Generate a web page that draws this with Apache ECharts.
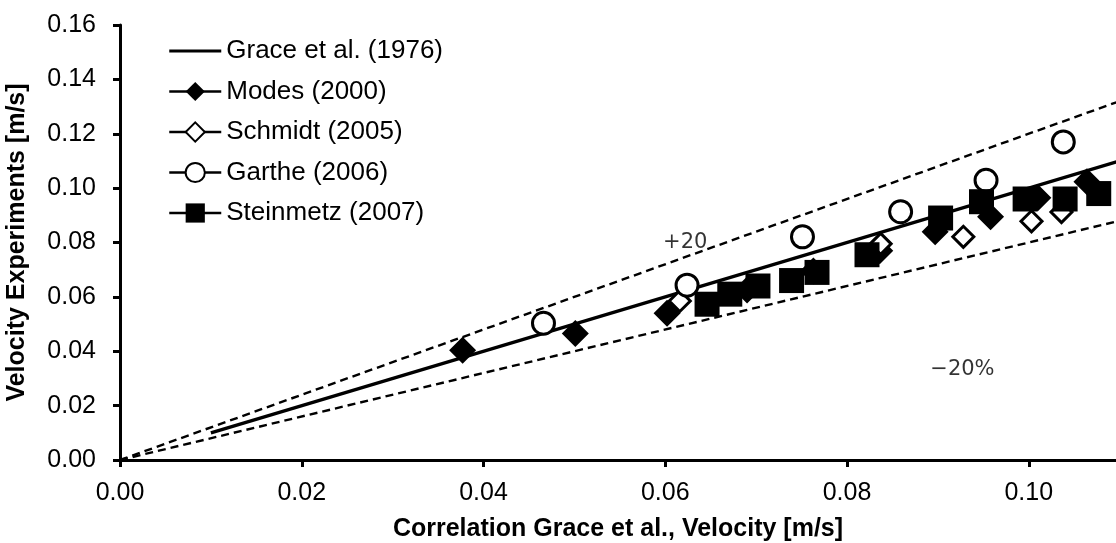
<!DOCTYPE html>
<html>
<head>
<meta charset="utf-8">
<script src="https://cdn.jsdelivr.net/npm/echarts@6/dist/echarts.min.js"></script>
<style>
html,body{margin:0;padding:0;background:#fff;}
#chart{width:1116px;height:543px;}
</style>
</head>
<body>
<div id="chart"></div>
<script>
// ---- data ----
const xTickInterval = 0.02;
const yTickInterval = 0.02;
const graceLine = [[0.01, 0.01], [0.11, 0.11]];
const plus20Line = [[0, 0], [0.11, 0.132]];
const minus20Line = [[0, 0], [0.11, 0.088]];
const modes = [[0.0377,0.0404],[0.0501,0.0465],[0.0602,0.0540],[0.0690,0.0625],[0.0763,0.0695],[0.0836,0.0770],[0.0897,0.0840],[0.0958,0.0895],[0.1010,0.0965],[0.1064,0.1023]];
const schmidt = [[0.0616,0.0585],[0.0837,0.0795],[0.0928,0.0821],[0.1003,0.0878],[0.1036,0.0912]];
const garthe = [[0.0466,0.0503],[0.0624,0.0643],[0.0751,0.0821],[0.0859,0.0913],[0.0953,0.1029],[0.1038,0.1170]];
const steinmetz = [[0.0646,0.0573],[0.0671,0.0610],[0.0702,0.0640],[0.0739,0.0660],[0.0767,0.0690],[0.0822,0.0755],[0.0903,0.0890],[0.0948,0.0950],[0.0996,0.0960],[0.1040,0.0960],[0.1077,0.0980]];
const annotations = [{name:'+20', value:[0.0622,0.0800]}, {name:'\u221220%', value:[0.0927,0.0331]}];
const seriesNames = ['Grace et al. (1976)','Modes (2000)','Schmidt (2005)','Garthe (2006)','Steinmetz (2007)'];

const FONT = '"Liberation Sans", Arial, sans-serif';
const chart = echarts.init(document.getElementById('chart'), null, {renderer:'canvas'});

function markerSeries(name, data, symbol, size, filled){
  return {
    name, type:'line', data, symbol, symbolSize:size, showSymbol:true,
    lineStyle:{opacity:0, width:0},
    itemStyle:{color: filled ? '#000' : '#fff', borderColor:'#000', borderWidth: filled ? 0 : 3, opacity:1},
    emphasis:{disabled:true}, animation:false, z:3
  };
}

chart.setOption({
  backgroundColor:'#fff',
  animation:false,
  grid:{left:120, right:0, top:25, bottom:83, containLabel:false, outerBoundsMode:'none'},
  xAxis:{
    type:'value', min:0, max:0.1096, interval:xTickInterval,
    name:'Correlation Grace et al., Velocity [m/s]', nameLocation:'middle', nameGap:57,
    nameTextStyle:{fontFamily:FONT, fontWeight:'bold', fontSize:25, color:'#000'},
    axisLine:{lineStyle:{color:'#000', width:3}},
    axisTick:{show:true, inside:false, length:7, lineStyle:{color:'#000', width:3}},
    axisLabel:{fontFamily:FONT, fontSize:25, color:'#000', margin:21, showMaxLabel:false,
      formatter:v=>v.toFixed(2)},
    splitLine:{show:false}
  },
  yAxis:{
    type:'value', min:0, max:0.16, interval:yTickInterval,
    name:'Velocity Experiments [m/s]', nameLocation:'middle', nameGap:90,
    nameTextStyle:{fontFamily:FONT, fontWeight:'bold', fontSize:25, color:'#000'},
    axisLine:{lineStyle:{color:'#000', width:3}},
    axisTick:{show:true, inside:false, length:7, lineStyle:{color:'#000', width:3}},
    axisLabel:{fontFamily:FONT, fontSize:25, color:'#000', margin:24, formatter:v=>v.toFixed(2)},
    splitLine:{show:false}
  },
  legend:{
    orient:'vertical', left:163, top:31, itemWidth:52, itemHeight:24, itemGap:10.5,
    data:[
      {name:seriesNames[0], icon:'path://M0,0H52V3H0Z'},
      seriesNames[1], seriesNames[2], seriesNames[3], seriesNames[4]
    ],
    textStyle:{fontFamily:FONT, fontSize:26, color:'#000', lineHeight:30},
    lineStyle:{color:'#000', width:2.5, opacity:1, type:'solid'},
    selectedMode:false
  },
  series:[
    {name:'plus20', type:'line', data:plus20Line, symbol:'none', silent:true, z:1,
      lineStyle:{color:'#000', width:2.4, type:[8,5]}},
    {name:'minus20', type:'line', data:minus20Line, symbol:'none', silent:true, z:1,
      lineStyle:{color:'#000', width:2.4, type:[8,5]}},
    {name:seriesNames[0], type:'line', data:graceLine, symbol:'none', silent:true, z:2,
      lineStyle:{color:'#000', width:3.5}, itemStyle:{color:'#000'}},
    markerSeries(seriesNames[1], modes, 'diamond', 27, true),
    markerSeries(seriesNames[2], schmidt, 'diamond', 21, false),
    markerSeries(seriesNames[3], garthe, 'circle', 22, false),
    markerSeries(seriesNames[4], steinmetz, 'rect', 25, true),
    {name:'annotations', type:'scatter', data:annotations, symbolSize:0, silent:true, z:5,
      label:{show:true, position:'inside', formatter:p=>p.name,
        fontFamily:'"DejaVu Sans", sans-serif', fontSize:21, color:'#000'}}
  ]
});
</script>
</body>
</html>
